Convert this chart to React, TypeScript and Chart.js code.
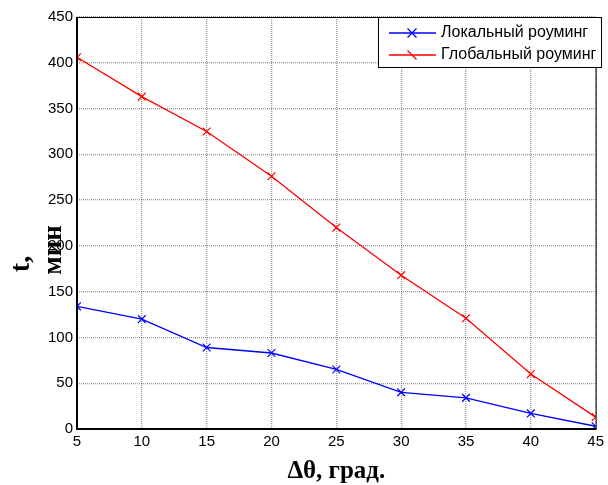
import React, { useEffect, useRef } from "react";
import { Chart, registerables } from "chart.js";

Chart.register(...registerables);

// Angle step Δθ (degrees) and roaming time t (minutes)
const angles = [5, 10, 15, 20, 25, 30, 35, 40, 45];
const localRoaming = [134, 120, 89, 83, 65, 40, 34, 17, 3];
const globalRoaming = [406, 363, 325, 276, 220, 168, 121, 60, 13];

const seriesNames = ["Локальный роуминг", "Глобальный роуминг"];
const seriesColors = ["#0000ff", "#ff0000"];

const xTitle = "Δθ, град.";
const yTitleParts = ["t,", "мин"];

const SANS = "'Liberation Sans', Arial, sans-serif";
const SERIF = "'Liberation Serif', 'Times New Roman', serif";

function strokeSeg(ctx: CanvasRenderingContext2D, color: string, x1: number, y1: number, x2: number, y2: number) {
  ctx.beginPath();
  ctx.strokeStyle = color;
  ctx.moveTo(x1, y1);
  ctx.lineTo(x2, y2);
  ctx.stroke();
}

const framePlugin = {
  id: "frame",
  afterDraw(chart: any) {
    const ctx: CanvasRenderingContext2D = chart.ctx;
    const { left, right, top, bottom } = chart.chartArea;
    ctx.save();
    ctx.setLineDash([]);
    ctx.globalAlpha = 1;

    // Axis box
    ctx.lineWidth = 1;
    strokeSeg(ctx, "#000", left, top + 0.5, right + 0.5, top + 0.5);
    strokeSeg(ctx, "#000", right + 0.5, top, right + 0.5, bottom);
    ctx.lineWidth = 2;
    strokeSeg(ctx, "#000", left, top, left, bottom + 1);
    strokeSeg(ctx, "#000", left - 1, bottom, right + 1, bottom);

    // Axis titles
    ctx.fillStyle = "#000";
    ctx.font = `bold 25px ${SERIF}`;
    ctx.textAlign = "center";
    ctx.textBaseline = "alphabetic";
    ctx.fillText(xTitle, (left + right) / 2, 478);

    ctx.save();
    ctx.translate(29, 264);
    ctx.rotate(-Math.PI / 2);
    ctx.font = `bold 28px ${SERIF}`;
    ctx.fillText(yTitleParts[0], 0, 0);
    ctx.restore();

    ctx.save();
    ctx.translate(61, 250);
    ctx.rotate(-Math.PI / 2);
    ctx.font = `bold 27px ${SERIF}`;
    ctx.fillText(yTitleParts[1], 0, 0);
    ctx.restore();

    // Legend
    const bx = 378, by = 17, bw = 223, bh = 50;
    ctx.fillStyle = "#fff";
    ctx.fillRect(bx, by, bw, bh);
    ctx.lineWidth = 1;
    ctx.strokeStyle = "#000";
    ctx.strokeRect(bx + 0.5, by + 0.5, bw, bh);
    const rows = [33, 55];
    chart.data.datasets.forEach((ds: any, i: number) => {
      const y = rows[i];
      const color = seriesColors[i];
      ctx.lineWidth = 1.6;
      strokeSeg(ctx, color, 389, y, 436, y);
      ctx.lineWidth = 1.3;
      const mx = 412, r = 4.5;
      strokeSeg(ctx, color, mx - r, y - r, mx + r, y + r);
      if (i === 0) strokeSeg(ctx, color, mx - r, y + r, mx + r, y - r);
      ctx.fillStyle = "#000";
      ctx.font = `16px ${SANS}`;
      ctx.textAlign = "left";
      ctx.textBaseline = "middle";
      ctx.fillText(ds.label, 441, y);
    });
    ctx.restore();
  },
};

export default function App() {
  const ref = useRef<HTMLCanvasElement>(null);

  useEffect(() => {
    if (!ref.current) return;
    const toPts = (vals: number[]) => angles.map((a, i) => ({ x: a, y: vals[i] }));
    const chart = new Chart(ref.current, {
      type: "line",
      data: {
        datasets: [localRoaming, globalRoaming].map((vals, i) => ({
          label: seriesNames[i],
          data: toPts(vals),
          borderColor: seriesColors[i],
          backgroundColor: seriesColors[i],
          borderWidth: 1.3,
          pointStyle: "crossRot",
          pointRadius: 5.5,
          pointBorderWidth: 1.2,
          pointBorderColor: seriesColors[i],
          tension: 0,
          fill: false,
        })),
      },
      options: {
        responsive: false,
        animation: false,
        events: [],
        layout: { padding: { left: 0, right: 9, top: 17, bottom: 0 } },
        plugins: {
          legend: { display: false },
          tooltip: { enabled: false },
          title: { display: false },
        },
        scales: {
          x: {
            type: "linear",
            min: 5,
            max: 45,
            ticks: {
              stepSize: 5,
              color: "#000",
              font: { family: SANS, size: 15 },
              padding: 4,
              maxRotation: 0,
            },
            grid: {
              color: "rgba(0,0,0,0.4)",
              lineWidth: 1.3,
              drawTicks: false,
            },
            border: { display: false, dash: [1, 1] },
            afterFit: (s: any) => {
              s.height = 56;
            },
          },
          y: {
            type: "linear",
            min: 0,
            max: 450,
            ticks: {
              stepSize: 50,
              color: "#000",
              font: { family: SANS, size: 15 },
              padding: 4,
            },
            grid: {
              color: "rgba(0,0,0,0.4)",
              lineWidth: 1.3,
              drawTicks: false,
            },
            border: { display: false, dash: [1, 1] },
            afterFit: (s: any) => {
              s.width = 77;
            },
          },
        },
      },
      plugins: [framePlugin],
    });
    return () => chart.destroy();
  }, []);

  return (
    <div style={{ position: "fixed", left: 0, top: 0, width: 608, height: 485, background: "#fff" }}>
      <canvas ref={ref} width={608} height={485} style={{ display: "block" }} />
    </div>
  );
}
